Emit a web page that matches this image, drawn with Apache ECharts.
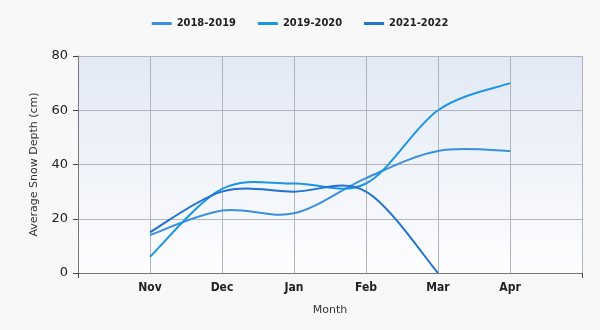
<!DOCTYPE html>
<html>
<head>
<meta charset="UTF-8">
<title>Average Snow Depth</title>
<script src="https://cdn.jsdelivr.net/npm/echarts@6/dist/echarts.min.js"></script>
<style>
html, body { margin: 0; padding: 0; background: #f8f8f8; }
#chart { width: 600px; height: 330px; }
</style>
</head>
<body>
<div id="chart"></div>
<script>
// data
var months = ['Nov', 'Dec', 'Jan', 'Feb', 'Mar', 'Apr'];
var seasons = ['2018-2019', '2019-2020', '2021-2022'];
var depth2018 = [14, 23, 22, 35, 45, 45];
var depth2019 = [6, 31, 33, 33, 60, 70];
var depth2021 = [15, 30, 30, 30, 0, null];
var colors = ['#3a8fe0', '#1b95e6', '#2172d2'];
var yTicks = [0, 20, 40, 60, 80];

// one empty slot on each side of the months
var cats = [''].concat(months, ['']);
var allData = [depth2018, depth2019, depth2021];
var condensed = "'DejaVu Sans Condensed', 'DejaVu Sans'";

// catmull-rom curve through the points, drawn segment by segment
function makeRender(pts, color) {
    return function (params, api) {
        var i = params.dataIndex;
        if (i + 1 >= pts.length) return null;
        var p = function (k) {
            k = Math.max(0, Math.min(pts.length - 1, k));
            return api.coord(pts[k]);
        };
        var p0 = p(i - 1), p1 = p(i), p2 = p(i + 1), p3 = p(i + 2);
        return {
            type: 'bezierCurve',
            shape: {
                x1: p1[0], y1: p1[1],
                x2: p2[0], y2: p2[1],
                cpx1: p1[0] + (p2[0] - p0[0]) / 6,
                cpy1: p1[1] + (p2[1] - p0[1]) / 6,
                cpx2: p2[0] - (p3[0] - p1[0]) / 6,
                cpy2: p2[1] - (p3[1] - p1[1]) / 6
            },
            style: { stroke: color, lineWidth: 2, fill: null }
        };
    };
}

var series = [];
for (var i = 0; i < seasons.length; i++) {
    var pts = [];
    for (var j = 0; j < months.length; j++) {
        if (allData[i][j] != null) pts.push([j + 1, allData[i][j]]);
    }
    series.push({
        name: seasons[i],
        type: 'custom',
        data: pts,
        encode: { x: 0, y: 1 },
        itemStyle: { color: colors[i] },
        renderItem: makeRender(pts, colors[i])
    });
}

var chart = echarts.init(document.getElementById('chart'));
chart.setOption({
    animation: false,
    backgroundColor: '#f8f8f8',
    textStyle: { fontFamily: 'DejaVu Sans' },
    legend: {
        top: 13,
        left: 'center',
        itemWidth: 20,
        itemHeight: 3,
        itemGap: 22,
        icon: 'rect',
        textStyle: { fontSize: 11, fontWeight: 'bold', color: '#222', fontFamily: condensed },
        data: seasons
    },
    grid: {
        left: 78, right: 18, top: 56, bottom: 57,
        show: true,
        borderWidth: 0,
        backgroundColor: new echarts.graphic.LinearGradient(0, 0, 0, 1, [
            { offset: 0, color: '#e2e9f5' },
            { offset: 1, color: '#fdfdfe' }
        ])
    },
    xAxis: {
        type: 'category',
        data: cats,
        boundaryGap: false,
        name: 'Month',
        nameLocation: 'middle',
        nameGap: 32,
        nameTextStyle: { fontSize: 11, color: '#333' },
        axisLine: { lineStyle: { color: '#777' } },
        axisTick: {
            length: 5,
            lineStyle: { color: '#444' },
            interval: function (idx) { return idx === 0 || idx === cats.length - 1; }
        },
        axisLabel: { fontSize: 12, fontWeight: 'bold', color: '#222', margin: 9, interval: 0, fontFamily: condensed },
        splitLine: { show: true, lineStyle: { color: '#b0b4bc' } }
    },
    yAxis: {
        type: 'value',
        min: yTicks[0],
        max: yTicks[yTicks.length - 1],
        interval: 20,
        name: 'Average Snow Depth (cm)',
        nameLocation: 'middle',
        nameGap: 38,
        nameTextStyle: { fontSize: 11, color: '#333' },
        axisLine: { show: true, lineStyle: { color: '#777' } },
        axisTick: { show: true, length: 5, lineStyle: { color: '#444' } },
        axisLabel: { fontSize: 13, color: '#222', margin: 10 },
        splitLine: { lineStyle: { color: '#b0b4bc' } }
    },
    series: series
});
</script>
</body>
</html>
